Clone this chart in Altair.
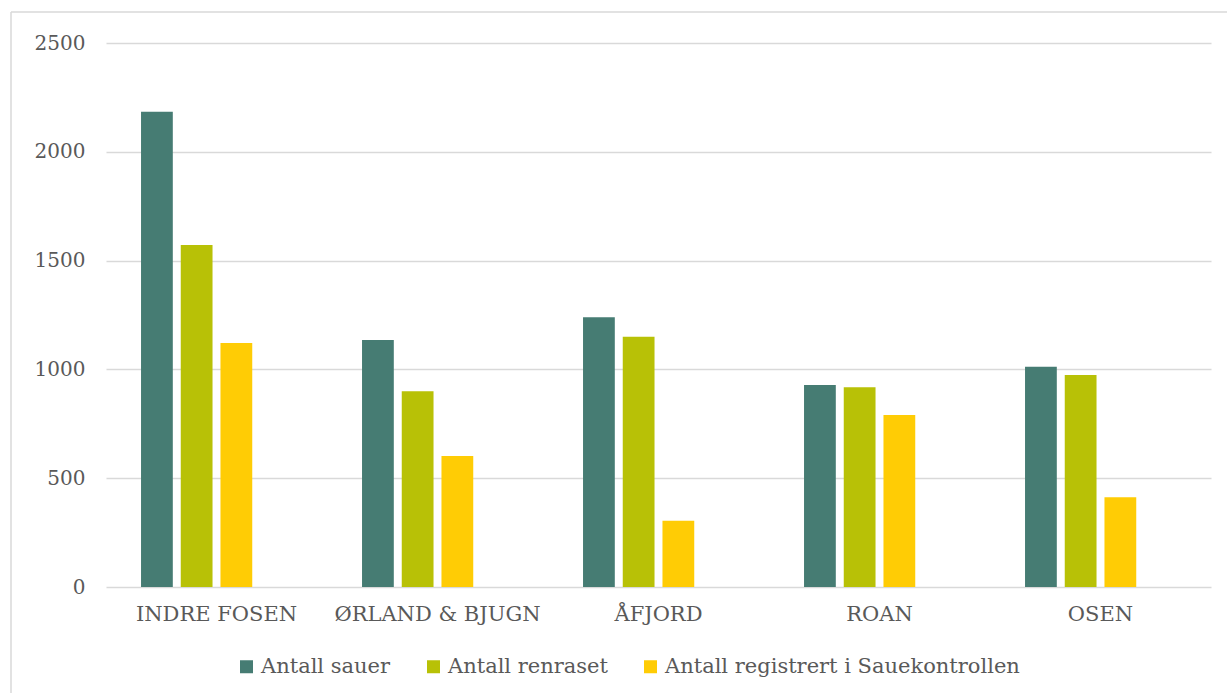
import altair as alt
import pandas as pd

kommuner = ["INDRE FOSEN", "ØRLAND & BJUGN", "ÅFJORD", "ROAN", "OSEN"]
serier = ["Antall sauer", "Antall renraset", "Antall registrert i Sauekontrollen"]
antall_sauer = [2184, 1135, 1240, 928, 1012]
antall_renraset = [1572, 900, 1150, 918, 974]
antall_registrert = [1121, 602, 305, 790, 412]
farger = ["#467C73", "#B8C106", "#FFCC05"]
y_ticks = [0, 500, 1000, 1500, 2000, 2500]

rows = []
for i, k in enumerate(kommuner):
    for s, vals in zip(serier, [antall_sauer, antall_renraset, antall_registrert]):
        rows.append({"Kommune": k, "Serie": s, "Antall": vals[i]})
df = pd.DataFrame(rows)

W, H = 1105, 544
FONT = "DejaVu Serif"
TXT = "#595959"
GRID = "#D9D9D9"

bars = alt.Chart(df).mark_bar().encode(
    x=alt.X(
        "Kommune:N",
        sort=kommuner,
        scale=alt.Scale(paddingInner=0.317, paddingOuter=0.1585),
        axis=alt.Axis(
            title=None, labelAngle=0, ticks=False, domain=False, grid=False,
            labelPadding=16, labelFont=FONT, labelFontSize=21, labelColor=TXT,
            labelLimit=0,
        ),
    ),
    xOffset=alt.XOffset(
        "Serie:N",
        scale=alt.Scale(domain=serier + [" "], paddingInner=0.2, paddingOuter=0),
    ),
    y=alt.Y(
        "Antall:Q",
        scale=alt.Scale(domain=[0, 2500]),
        axis=alt.Axis(
            title=None, values=y_ticks, format="d", ticks=False, domain=False,
            gridColor=GRID, gridWidth=1.5, labelPadding=21,
            labelFont=FONT, labelFontSize=20, labelColor=TXT,
        ),
    ),
    color=alt.Color(
        "Serie:N",
        sort=serier,
        scale=alt.Scale(domain=serier, range=farger),
        legend=alt.Legend(
            title=None, orient="none", legendX=130, legendY=613,
            direction="horizontal", symbolType="square", symbolSize=169,
            symbolStrokeWidth=0, labelFont=FONT, labelFontSize=21,
            labelColor=TXT, labelOffset=4, columnPadding=32, padding=0,
            labelLimit=0,
        ),
    ),
)

dummy = pd.DataFrame({"a": [0]})
top_rule = alt.Chart(dummy).mark_rule(color=GRID, strokeWidth=1.5).encode(
    x=alt.value(-95), x2=alt.value(W + 16), y=alt.value(-31)
)
left_rule = alt.Chart(dummy).mark_rule(color=GRID, strokeWidth=1.5).encode(
    x=alt.value(-95), y=alt.value(-31), y2=alt.value(650)
)

chart = (
    alt.layer(bars, top_rule, left_rule)
    .properties(
        width=W, height=H,
        padding={"left": 10, "top": 11, "right": 0, "bottom": 0},
        background="white",
    )
    .configure_view(stroke=None)
)

chart.save("out.html", embed_options={"renderer": "svg", "actions": False})
